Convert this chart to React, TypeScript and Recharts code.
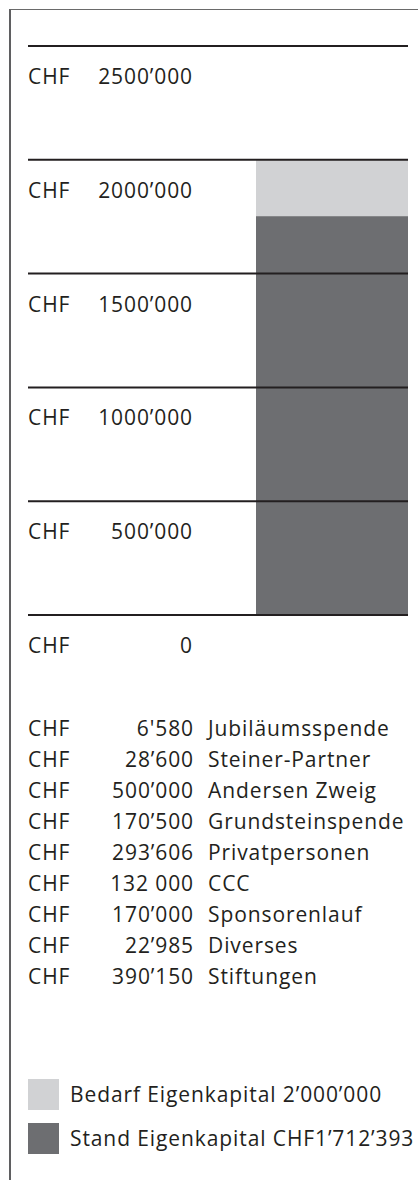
import { BarChart, Bar, XAxis, YAxis, ReferenceLine } from "recharts";

const CATEGORY = ["Eigenkapital"];
const BEDARF = [2000000];
const STAND = [1752000];
const Y_TICKS = [0, 500000, 1000000, 1500000, 2000000, 2500000];

const DONOR_NAMES = [
  "Jubiläumsspende",
  "Steiner-Partner",
  "Andersen Zweig",
  "Grundsteinspende",
  "Privatpersonen",
  "CCC",
  "Sponsorenlauf",
  "Diverses",
  "Stiftungen",
];
const DONOR_AMOUNTS = ["6'580", "28’600", "500’000", "170’500", "293’606", "132 000", "170’000", "22’985", "390’150"];

const LEGEND_LABELS = ["Bedarf Eigenkapital 2’000’000", "Stand Eigenkapital CHF1’712’393"];
const LIGHT = "#d1d2d4";
const DARK = "#6d6e71";
const INK = "#231f20";
const FONT = '"Open Sans", sans-serif';

const data = CATEGORY.map((name, i) => ({ name, bedarf: BEDARF[i], stand: STAND[i] }));

function fmt(v: number) {
  if (v === 0) return "0";
  const k = Math.floor(v / 1000);
  const r = String(v % 1000).padStart(3, "0");
  return `${k}’${r}`;
}

function TickLabel(props: any) {
  const { viewBox, v } = props;
  if (!viewBox) return null;
  const x = viewBox.x;
  const y = viewBox.y;
  return (
    <g>
      <text x={x} y={y + 38} fontSize={21} fill={INK} fontFamily={FONT} letterSpacing={0.9}>
        CHF
      </text>
      <text x={x + 165} y={y + 38} fontSize={21} fill={INK} textAnchor="end" fontFamily={FONT} letterSpacing={0.9}>
        {fmt(v)}
      </text>
    </g>
  );
}

export default function App() {
  return (
    <div
      style={{
        position: "relative",
        width: 418,
        height: 1180,
        overflow: "hidden",
        fontFamily: FONT,
        color: INK,
        background: "#fff",
        letterSpacing: 0.9,
      }}
    >
      <style>{`body{margin:0}`}</style>
      <div
        style={{
          position: "absolute",
          left: 9,
          top: 9,
          right: 0,
          bottom: 0,
          borderLeft: "2px solid #5f5f61",
          borderTop: "1px solid #6a6a6a",
        }}
      />
      <div style={{ position: "absolute", left: 0, top: 0 }}>
        <BarChart
          width={418}
          height={660}
          data={data}
          margin={{ top: 46, left: 28, right: 10, bottom: 45 }}
          barGap="-100%"
          barCategoryGap={0}
        >
          <XAxis dataKey="name" hide padding={{ left: 228, right: 0 }} />
          <YAxis domain={[0, 2500000]} ticks={Y_TICKS} hide />
          <Bar dataKey="bedarf" fill={LIGHT} isAnimationActive={false} />
          <Bar dataKey="stand" fill={DARK} isAnimationActive={false} />
          {Y_TICKS.map((t) => (
            <ReferenceLine key={t} y={t} stroke={INK} strokeWidth={2} label={<TickLabel v={t} />} />
          ))}
        </BarChart>
      </div>

      <div style={{ position: "absolute", left: 28, top: 713, fontSize: 21, lineHeight: "31px" }}>
        {DONOR_NAMES.map((name, i) => (
          <div key={name} style={{ position: "relative", height: 31, width: 390 }}>
            <span style={{ position: "absolute", left: 0 }}>CHF</span>
            <span style={{ position: "absolute", right: 390 - 166, textAlign: "right", whiteSpace: "nowrap" }}>
              {DONOR_AMOUNTS[i]}
            </span>
            <span style={{ position: "absolute", left: 180, whiteSpace: "nowrap" }}>{name}</span>
          </div>
        ))}
      </div>

      {LEGEND_LABELS.map((label, i) => (
        <div key={label} style={{ position: "absolute", left: 28, top: 1079 + i * 44, height: 31, width: 390 }}>
          <div style={{ position: "absolute", left: 0, top: 0, width: 31, height: 31, background: i === 0 ? LIGHT : DARK }} />
          <div
            style={{
              position: "absolute",
              left: 42,
              top: 0,
              fontSize: 21,
              lineHeight: "31px",
              whiteSpace: "nowrap",
            }}
          >
            {label}
          </div>
        </div>
      ))}
    </div>
  );
}
